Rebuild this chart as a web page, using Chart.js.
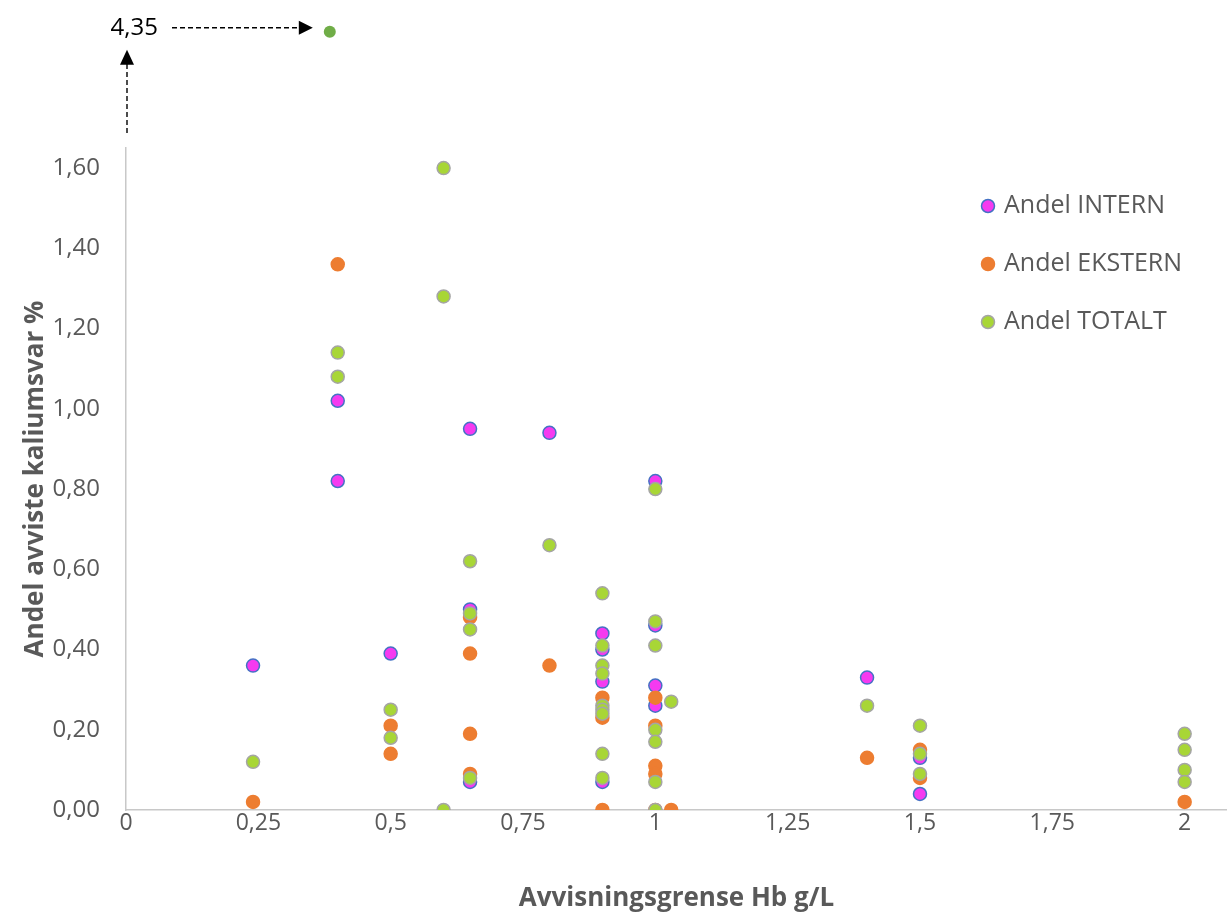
<!DOCTYPE html>
<html>
<head>
<meta charset="utf-8">
<script src="https://cdn.jsdelivr.net/npm/chart.js@4.4.0/dist/chart.umd.min.js"></script>
<style>
  html, body { margin: 0; padding: 0; background: #fff; }
</style>
</head>
<body>
<canvas id="chart" width="1227" height="915"></canvas>
<script>
// series names
const seriesLabels = ['Andel INTERN', 'Andel EKSTERN', 'Andel TOTALT'];

// Andel INTERN
const internX = [0.24, 0.4, 0.4, 0.5, 0.65, 0.65, 0.65, 0.8, 0.9, 0.9, 0.9, 0.9, 1, 1, 1, 1, 1.4, 1.5, 1.5];
const internY = [0.36, 1.02, 0.82, 0.39, 0.95, 0.50, 0.07, 0.94, 0.44, 0.40, 0.32, 0.07, 0.82, 0.46, 0.31, 0.26, 0.33, 0.13, 0.04];

// Andel EKSTERN
const eksternX = [0.24, 0.4, 0.5, 0.5, 0.65, 0.65, 0.65, 0.65, 0.8, 0.9, 0.9, 0.9, 1, 1, 1, 1, 1, 1.03, 1.4, 1.5, 1.5, 2];
const eksternY = [0.02, 1.36, 0.21, 0.14, 0.48, 0.39, 0.19, 0.09, 0.36, 0.28, 0.23, 0, 0.28, 0.21, 0.11, 0.09, 0, 0, 0.13, 0.15, 0.08, 0.02];

// Andel TOTALT
const totaltX = [0.24, 0.4, 0.4, 0.5, 0.5, 0.6, 0.6, 0.6, 0.65, 0.65, 0.65, 0.65, 0.8,
                 0.9, 0.9, 0.9, 0.9, 0.9, 0.9, 0.9, 0.9, 0.9, 1, 1, 1, 1, 1, 1, 1, 1.03,
                 1.4, 1.5, 1.5, 1.5, 2, 2, 2, 2];
const totaltY = [0.12, 1.14, 1.08, 0.25, 0.18, 1.60, 1.28, 0, 0.62, 0.49, 0.45, 0.08, 0.66,
                 0.54, 0.41, 0.36, 0.34, 0.26, 0.25, 0.24, 0.14, 0.08, 0.80, 0.47, 0.41, 0.20, 0.17, 0.07, 0, 0.27,
                 0.26, 0.21, 0.14, 0.09, 0.19, 0.15, 0.10, 0.07];

// the one value far above the axis (shown with arrows)
const outlierX = [0.385];
const outlierY = [4.35];

const xTicks = [0, 0.25, 0.5, 0.75, 1, 1.25, 1.5, 1.75, 2];
const yTicks = [0, 0.2, 0.4, 0.6, 0.8, 1.0, 1.2, 1.4, 1.6];

const textColor = '#595959';
const fontFamily = '"Open Sans", "Noto Sans", sans-serif';

function zip(xs, ys) {
  return xs.map((x, i) => ({ x: x, y: ys[i] }));
}
function comma(v, digits) {
  const s = digits === undefined ? String(Math.round(v * 100) / 100) : v.toFixed(digits);
  return s.replace('.', ',');
}

// legend drawn inside the plot, on the right
const sideLegend = {
  id: 'sideLegend',
  afterDraw(chart) {
    const ctx = chart.ctx;
    const area = chart.chartArea;
    const x = area.right - 239;
    let y = area.top + 58;
    ctx.save();
    ctx.font = '25px ' + fontFamily;
    ctx.textBaseline = 'middle';
    for (let i = 0; i < seriesLabels.length; i++) {
      const ds = chart.data.datasets[i];
      ctx.beginPath();
      ctx.arc(x, y, 6.5, 0, Math.PI * 2);
      ctx.fillStyle = ds.backgroundColor;
      ctx.fill();
      ctx.lineWidth = 1.5;
      ctx.strokeStyle = ds.borderColor;
      ctx.stroke();
      ctx.fillStyle = textColor;
      ctx.textAlign = 'left';
      ctx.fillText(ds.label, x + 16, y);
      y += 58;
    }
    ctx.restore();
  }
};

// "4,35" label with dashed arrows for the off-scale point
const outlierNote = {
  id: 'outlierNote',
  afterDatasetsDraw(chart) {
    const meta = chart.getDatasetMeta(3);
    if (!meta.data.length) return;
    const p = meta.data[0];
    const area = chart.chartArea;
    const ctx = chart.ctx;
    // the point sits above the plot area, so let it draw over the whole canvas
    p.draw(ctx, { left: 0, top: 0, right: chart.width, bottom: chart.height });
    const ay = p.y - 4;
    const vx = area.left + 1;
    ctx.save();
    ctx.strokeStyle = '#000';
    ctx.fillStyle = '#000';
    ctx.lineWidth = 1.4;
    ctx.setLineDash([5, 3]);
    ctx.beginPath();
    ctx.moveTo(area.left + 46, ay);
    ctx.lineTo(p.x - 30, ay);
    ctx.stroke();
    ctx.beginPath();
    ctx.moveTo(vx, area.top - 15);
    ctx.lineTo(vx, p.y + 32);
    ctx.stroke();
    ctx.setLineDash([]);
    ctx.beginPath();
    ctx.moveTo(p.x - 17, ay);
    ctx.lineTo(p.x - 31, ay - 7);
    ctx.lineTo(p.x - 31, ay + 7);
    ctx.closePath();
    ctx.fill();
    ctx.beginPath();
    ctx.moveTo(vx, p.y + 18);
    ctx.lineTo(vx - 7, p.y + 33);
    ctx.lineTo(vx + 7, p.y + 33);
    ctx.closePath();
    ctx.fill();
    ctx.font = '24px ' + fontFamily;
    ctx.textAlign = 'right';
    ctx.textBaseline = 'middle';
    ctx.fillText(comma(outlierY[0], 2), area.left + 32, ay);
    ctx.restore();
  }
};

const pointStyle = { pointRadius: 6.5, pointHoverRadius: 6.5, pointBorderWidth: 1.5 };

new Chart(document.getElementById('chart'), {
  type: 'scatter',
  data: {
    datasets: [
      Object.assign({
        label: seriesLabels[0],
        data: zip(internX, internY),
        backgroundColor: '#F53AF0',
        borderColor: '#4472C4',
        order: 3
      }, pointStyle),
      Object.assign({
        label: seriesLabels[1],
        data: zip(eksternX, eksternY),
        backgroundColor: '#ED7D31',
        borderColor: '#ED7D31',
        order: 2
      }, pointStyle),
      Object.assign({
        label: seriesLabels[2],
        data: zip(totaltX, totaltY),
        backgroundColor: '#A8D636',
        borderColor: '#A5A5A5',
        order: 1
      }, pointStyle),
      {
        label: 'utenfor',
        data: zip(outlierX, outlierY),
        yAxisID: 'yBreak',
        backgroundColor: '#70AD47',
        borderColor: '#70AD47',
        pointRadius: 6,
        pointBorderWidth: 0,
        clip: false,
        order: 0
      }
    ]
  },
  options: {
    responsive: false,
    animation: false,
    devicePixelRatio: 1,
    layout: { autoPadding: false, padding: { top: 148, right: 0, bottom: 0, left: 0 } },
    plugins: {
      legend: { display: false },
      tooltip: { enabled: false }
    },
    scales: {
      x: {
        type: 'linear',
        min: 0,
        max: 2.08,
        afterBuildTicks: s => { s.ticks = xTicks.map(v => ({ value: v })); },
        afterFit: s => { s.height = 105; },
        grid: { display: false, drawTicks: false },
        border: { display: true, color: '#C8C8C8', width: 1.5 },
        ticks: {
          padding: 0,
          color: textColor,
          font: { family: fontFamily, size: 23 },
          callback: v => comma(v)
        },
        title: {
          display: true,
          text: 'Avvisningsgrense Hb g/L',
          color: textColor,
          font: { family: fontFamily, size: 26, weight: 'bold' },
          padding: { top: 0, bottom: 1 }
        }
      },
      y: {
        type: 'linear',
        min: 0,
        max: 1.65,
        afterBuildTicks: s => { s.ticks = yTicks.map(v => ({ value: v })); },
        afterFit: s => { s.width = 126; },
        grid: { display: false, drawTicks: false },
        border: { display: true, color: '#C8C8C8', width: 1.5 },
        ticks: {
          padding: 26,
          color: textColor,
          font: { family: fontFamily, size: 24 },
          callback: v => comma(v, 2)
        },
        title: {
          display: true,
          text: 'Andel avviste kaliumsvar %',
          color: textColor,
          font: { family: fontFamily, size: 26, weight: 'bold' },
          padding: { top: 20, bottom: 0 }
        }
      },
      yBreak: {
        type: 'linear',
        display: false,
        min: 0,
        max: 3.70
      }
    }
  },
  plugins: [sideLegend, outlierNote]
});
</script>
</body>
</html>
